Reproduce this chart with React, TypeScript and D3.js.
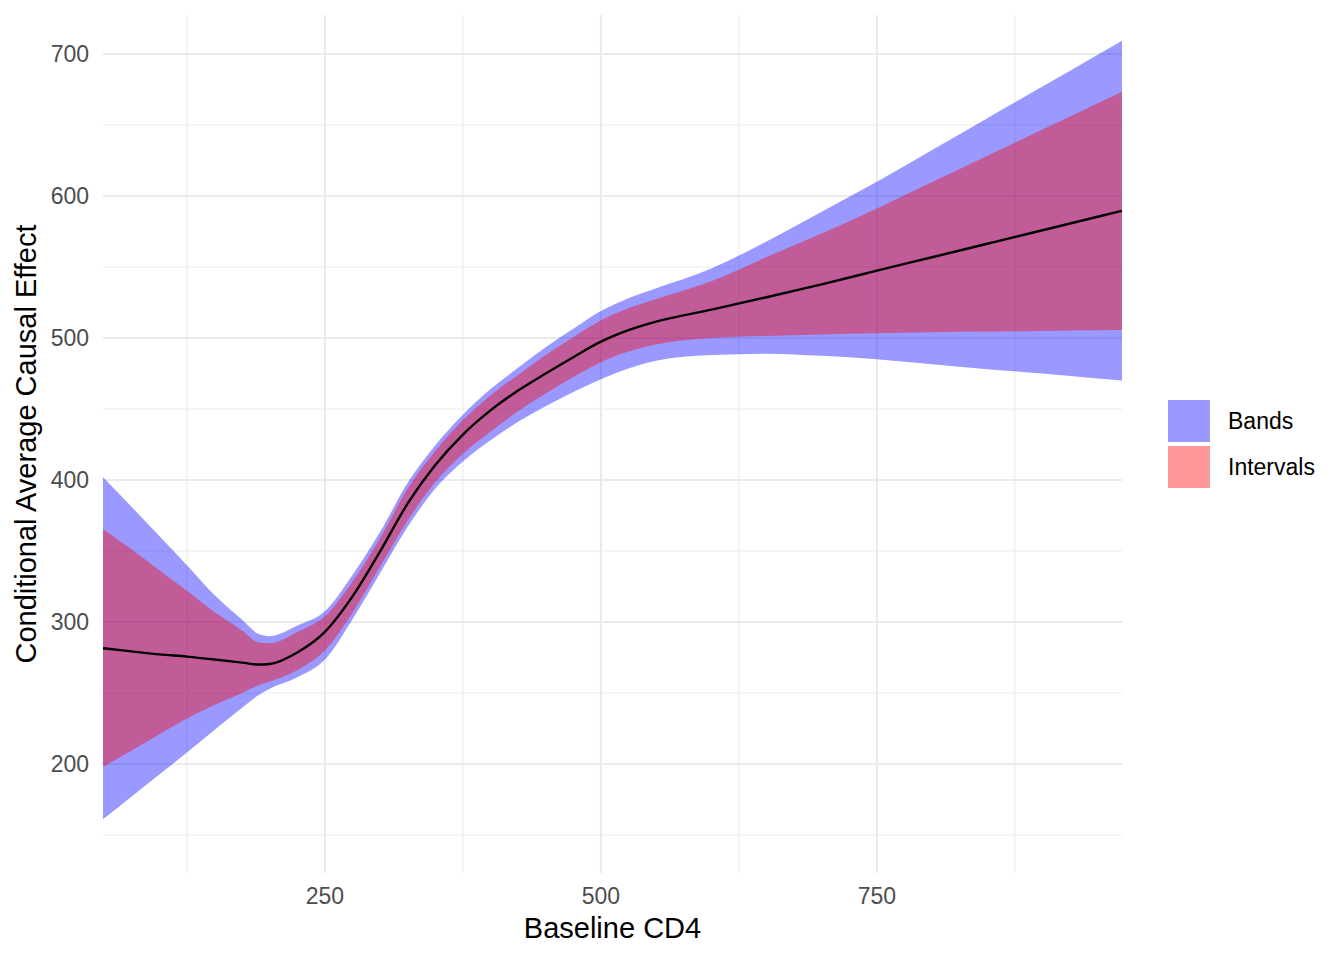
import * as d3 from 'd3';

// values
const cd4 = [49, 75, 100, 125, 150, 175, 190, 200, 225, 250, 275, 300, 325, 350, 375, 400, 425, 450, 475, 500, 525, 550, 600, 650, 700, 750, 800, 850, 900, 950, 972];
const bandLo = [161, 177, 192.5, 208, 224, 239.5, 248.5, 253, 261, 273.5, 302, 334.5, 367, 394, 413, 428, 441, 452, 462, 471, 478.5, 484, 488, 489, 487.5, 485, 481.5, 478, 475, 471.5, 470];
const intLo = [198, 209.5, 221, 232, 241.5, 250, 255.5, 258, 266, 280, 306.5, 339, 371.5, 398.5, 418.5, 434, 448.5, 461, 472.5, 483, 490.5, 495.5, 500, 501.5, 502.5, 503.3, 504, 504.5, 505, 505.5, 505.6];
const cate = [281.5, 279.3, 277.2, 275.6, 273.6, 271.4, 270, 270.4, 278.5, 293, 318, 349.7, 383.5, 410.5, 432, 449, 463, 475, 486.5, 497.4, 505.5, 511.5, 520, 528.7, 537.8, 547.4, 556.9, 566.4, 575.9, 585.4, 589.6];
const intHi = [365.5, 351, 336.5, 322, 307, 294, 285.5, 285, 293, 304, 328.5, 359, 394, 420.5, 442, 459.5, 474, 488, 500.5, 512.5, 521, 527.5, 540, 557, 573.6, 591.3, 609.8, 628.3, 646.8, 665.4, 673.5];
const bandHi = [402, 381, 360.5, 340, 319, 301.5, 291.5, 290, 297.5, 307.5, 333, 363.5, 398, 424.5, 446, 464, 479, 493.5, 506.5, 519, 528, 535, 549, 568, 589, 610.1, 632.4, 654.8, 677.1, 699.5, 709.4];

const xMajor = [250, 500, 750];
const xMinor = [125, 375, 625, 875];
const yMajor = [200, 300, 400, 500, 600, 700];
const yMinor = [150, 250, 350, 450, 550, 650];

const legendItems = [
  { label: 'Bands', color: 'blue' },
  { label: 'Intervals', color: 'red' },
];

const W = 1344;
const H = 960;
const panel = { left: 103, right: 1122, top: 15, bottom: 873 };
const font = '"Liberation Sans", Arial, Helvetica, sans-serif';

export default function App() {
  const x = d3.scaleLinear().domain([49, 972]).range([panel.left, panel.right]);
  const y = d3.scaleLinear().domain([123.2, 727.5]).range([panel.bottom, panel.top]);

  const idx = d3.range(cd4.length);
  const ribbon = (lo: number[], hi: number[]) =>
    d3.area<number>()
      .x((i) => x(cd4[i]))
      .y0((i) => y(lo[i]))
      .y1((i) => y(hi[i]))
      .curve(d3.curveMonotoneX)(idx) || '';
  const line = d3.line<number>()
    .x((i) => x(cd4[i]))
    .y((i) => y(cate[i]))
    .curve(d3.curveMonotoneX)(idx) || '';

  const grid = '#EBEBEB';
  const cx = (panel.left + panel.right) / 2;
  const cy = (panel.top + panel.bottom) / 2;

  return (
    <svg width={W} height={H} style={{ position: 'absolute', left: 0, top: 0, background: '#fff' }} fontFamily={font}>
      {/* minor grid */}
      {yMinor.map((v) => (
        <line key={'ym' + v} x1={panel.left} x2={panel.right} y1={y(v)} y2={y(v)} stroke={grid} strokeWidth={1.1} />
      ))}
      {xMinor.map((v) => (
        <line key={'xm' + v} x1={x(v)} x2={x(v)} y1={panel.top} y2={panel.bottom} stroke={grid} strokeWidth={1.1} />
      ))}
      {/* major grid */}
      {yMajor.map((v) => (
        <line key={'yM' + v} x1={panel.left} x2={panel.right} y1={y(v)} y2={y(v)} stroke={grid} strokeWidth={2.1} />
      ))}
      {xMajor.map((v) => (
        <line key={'xM' + v} x1={x(v)} x2={x(v)} y1={panel.top} y2={panel.bottom} stroke={grid} strokeWidth={2.1} />
      ))}

      <path d={ribbon(bandLo, bandHi)} fill="blue" fillOpacity={0.4} />
      <path d={ribbon(intLo, intHi)} fill="red" fillOpacity={0.4} />
      <path d={line} fill="none" stroke="#000" strokeWidth={2.4} />

      {/* tick labels */}
      {yMajor.map((v) => (
        <text key={'yt' + v} x={89} y={y(v) + 8.3} textAnchor="end" fontSize={23} fill="#4D4D4D">{v}</text>
      ))}
      {xMajor.map((v) => (
        <text key={'xt' + v} x={x(v)} y={904} textAnchor="middle" fontSize={23} fill="#4D4D4D">{v}</text>
      ))}

      {/* axis titles */}
      <text x={cx} y={938} textAnchor="middle" fontSize={29} fill="#000">Baseline CD4</text>
      <text transform={`translate(36,${cy}) rotate(-90)`} textAnchor="middle" fontSize={29} fill="#000">
        Conditional Average Causal Effect
      </text>

      {/* legend */}
      {legendItems.map((d, i) => (
        <g key={d.label} transform={`translate(1168,${400 + i * 46})`}>
          <rect width={42} height={42} fill={d.color} fillOpacity={0.4} />
          <text x={60} y={29} fontSize={23} fill="#000">{d.label}</text>
        </g>
      ))}
    </svg>
  );
}
